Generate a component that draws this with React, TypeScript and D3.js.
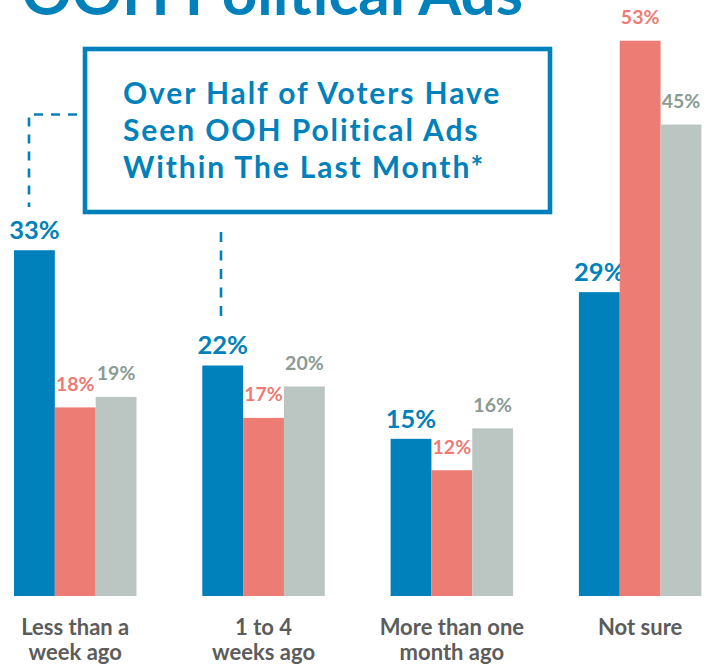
import React from "react";
import * as d3 from "d3";

const categories = ["Less than a|week ago", "1 to 4|weeks ago", "More than one|month ago", "Not sure"];
const seriesKeys = ["s1", "s2", "s3"];
const series1 = [33, 22, 15, 29];
const series2 = [18, 17, 12, 53];
const series3 = [19, 20, 16, 45];
const titleText = "OOH Political Ads";
const calloutLines = ["Over Half of Voters Have", "Seen OOH Political Ads", "Within The Last Month*"];

const W = 713;
const H = 664;
const BLUE = "#0081bb";
const RED = "#ec7c74";
const GRAY = "#bbc6c2";
const GRAY_TEXT = "#8a9b93";
const AXIS_TEXT = "#5c5c5c";
const FONT = "Lato, 'Open Sans', sans-serif";

export default function App() {
  const baseline = 596;
  const y = d3.scaleLinear().domain([0, 53]).range([baseline, 40.7]);
  const x0 = d3.scaleBand().domain(categories).range([14, 14 + 188.3 * 4]).paddingInner(0).paddingOuter(0);
  const x1 = d3.scaleBand().domain(seriesKeys).range([0, 122.5]);
  const data = [series1, series2, series3];
  const colors = [BLUE, RED, GRAY];
  const labelColors = [BLUE, RED, GRAY_TEXT];

  return (
    <svg width={W} height={H} style={{ position: "absolute", left: 0, top: 0 }}>
      <rect width={W} height={H} fill="#fff" />
      <text x={523} y={15} textAnchor="end" fontFamily={FONT} fontWeight={700} fontSize={62} fill={BLUE}>
        {titleText}
      </text>
      {/* callout box */}
      <rect x={85} y={49} width={465} height={163} fill="none" stroke={BLUE} strokeWidth={4.6} />
      {calloutLines.map((l, i) => (
        <text
          key={i}
          x={123}
          y={104 + i * 37.2}
          fontFamily={FONT}
          fontWeight={700}
          fontSize={30}
          letterSpacing={1.9}
          fill={BLUE}
        >
          {l}
        </text>
      ))}
      <path d="M77,114.5 H29 V207" fill="none" stroke={BLUE} strokeWidth={2.6} strokeDasharray="9 8" />
      <path d="M221,232 V318" fill="none" stroke={BLUE} strokeWidth={2.6} strokeDasharray="10 8.5" />
      {categories.map((c, ci) => (
        <g key={c} transform={`translate(${x0(c)},0)`}>
          {seriesKeys.map((k, si) => {
            const v = data[si][ci];
            const bx = x1(k)!;
            const bw = x1.bandwidth();
            return (
              <g key={k}>
                <rect x={bx} y={y(v)} width={bw} height={baseline - y(v)} fill={colors[si]} />
                <text
                  x={bx + bw / 2}
                  y={y(v) - (si === 0 ? 11 : 16.5)}
                  textAnchor="middle"
                  fontFamily={FONT}
                  fontWeight={700}
                  fontSize={si === 0 ? 25.5 : 19.5}
                  fill={labelColors[si]}
                >
                  {v}%
                </text>
              </g>
            );
          })}
          {c.split("|").map((line, li) => (
            <text
              key={li}
              x={61.25}
              y={635 + li * 24.5}
              textAnchor="middle"
              fontFamily={FONT}
              fontWeight={700}
              fontSize={22}
              fill={AXIS_TEXT}
            >
              {line}
            </text>
          ))}
        </g>
      ))}
    </svg>
  );
}
